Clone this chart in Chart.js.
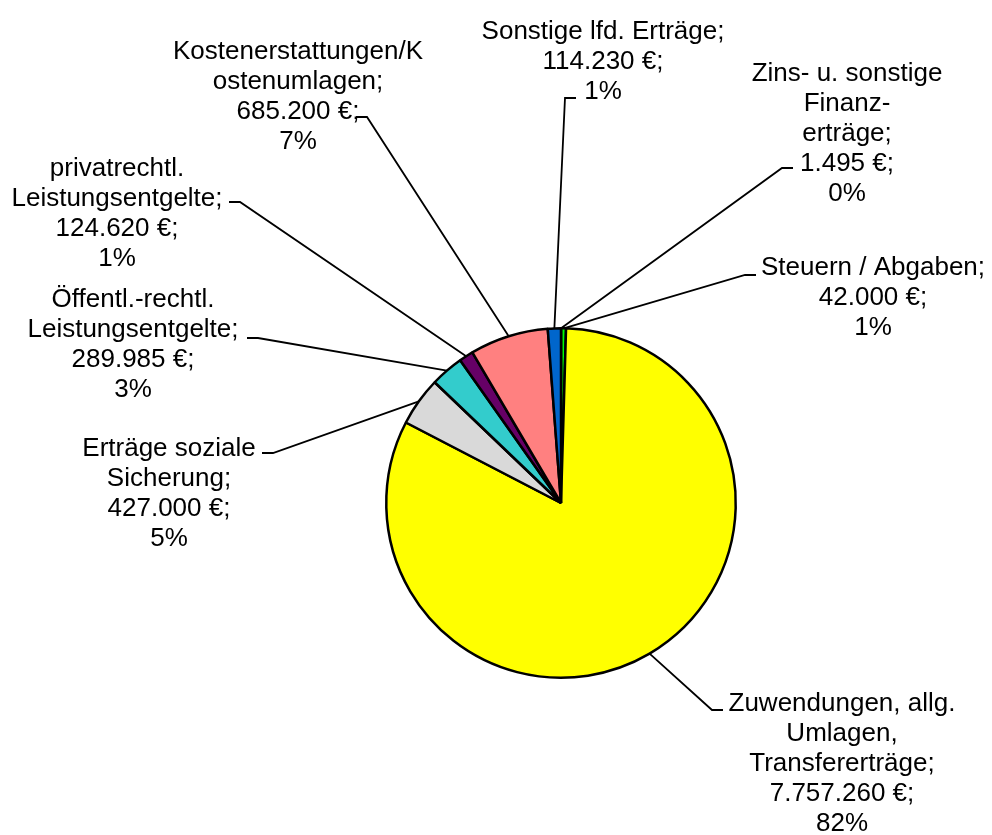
<!DOCTYPE html>
<html>
<head>
<meta charset="utf-8">
<script src="https://cdn.jsdelivr.net/npm/chart.js@4.4.0/dist/chart.umd.min.js"></script>
<style>
  html, body { margin: 0; padding: 0; background: #fff; }
  #wrap { width: 992px; height: 835px; }
</style>
</head>
<body>
<div id="wrap"><canvas id="pieChart" width="992" height="835"></canvas></div>
<script>
// data
var categories = [
    'Zins- u. sonstige Finanzerträge',
    'Steuern / Abgaben',
    'Zuwendungen, allg. Umlagen, Transfererträge',
    'Erträge soziale Sicherung',
    'Öffentl.-rechtl. Leistungsentgelte',
    'privatrechtl. Leistungsentgelte',
    'Kostenerstattungen/Kostenumlagen',
    'Sonstige lfd. Erträge'
];
var values = [1495, 42000, 7757260, 427000, 289985, 124620, 685200, 114230];
var colors = ['#1a4d1a', '#00ff00', '#ffff00', '#d9d9d9', '#33cccc', '#660066', '#ff8080', '#0066cc'];

// how the category names are wrapped in the labels
var nameLines = [
    ['Zins- u. sonstige', 'Finanz-', 'erträge;'],
    ['Steuern / Abgaben;'],
    ['Zuwendungen, allg.', 'Umlagen,', 'Transfererträge;'],
    ['Erträge soziale', 'Sicherung;'],
    ['Öffentl.-rechtl.', 'Leistungsentgelte;'],
    ['privatrechtl.', 'Leistungsentgelte;'],
    ['Kostenerstattungen/K', 'ostenumlagen;'],
    ['Sonstige lfd. Erträge;']
];

// label placement relative to the pie centre: text = centre of first line, elbow of leader, dir of short tail
var labelLayout = [
    { text: [286, -431], elbow: [221, -335], dir: 1 },
    { text: [312, -237], elbow: [184, -228], dir: 1 },
    { text: [281, 199],  elbow: [151, 207],  dir: 1 },
    { text: [-392, -56], elbow: [-288, -50], dir: -1 },
    { text: [-428, -205], elbow: [-303, -165], dir: -1 },
    { text: [-444, -336], elbow: [-321, -301], dir: -1 },
    { text: [-263, -453], elbow: [-194, -386], dir: -1 },
    { text: [42, -473],  elbow: [4, -405],    dir: 1 }
];

function fmtEuro(v) {
    return String(v).replace(/\B(?=(\d{3})+(?!\d))/g, '.');
}

// rounded percentages that add up to 100 (like Excel does)
function percents(vals) {
    var total = vals.reduce(function (a, b) { return a + b; }, 0);
    var raw = vals.map(function (v) { return v / total * 100; });
    var out = raw.map(Math.floor);
    var missing = 100 - out.reduce(function (a, b) { return a + b; }, 0);
    var order = raw.map(function (r, i) { return i; })
        .sort(function (a, b) { return (raw[b] - out[b]) - (raw[a] - out[a]); });
    for (var k = 0; k < missing; k++) out[order[k]] += 1;
    return out;
}
var pct = percents(values);

var outsideLabels = {
    id: 'outsideLabels',
    afterDatasetsDraw: function (chart) {
        var ctx = chart.ctx;
        var arcs = chart.getDatasetMeta(0).data;
        ctx.save();
        ctx.font = '26px "Liberation Sans", Arial, sans-serif';
        ctx.fillStyle = '#000';
        ctx.textAlign = 'center';
        ctx.textBaseline = 'alphabetic';
        ctx.strokeStyle = '#000';
        ctx.lineWidth = 1.8;
        arcs.forEach(function (arc, i) {
            var p = arc.getProps(['x', 'y', 'startAngle', 'endAngle', 'outerRadius'], true);
            var mid = (p.startAngle + p.endAngle) / 2;
            var sx = p.x + Math.cos(mid) * p.outerRadius;
            var sy = p.y + Math.sin(mid) * p.outerRadius;
            var L = labelLayout[i];
            var ex = p.x + L.elbow[0], ey = p.y + L.elbow[1];
            ctx.beginPath();
            ctx.moveTo(sx, sy);
            ctx.lineTo(ex, ey);
            ctx.lineTo(ex + L.dir * 11, ey);
            ctx.stroke();
            var lines = nameLines[i].concat([fmtEuro(values[i]) + ' €;', pct[i] + '%']);
            lines.forEach(function (t, k) {
                ctx.fillText(t, p.x + L.text[0], p.y + L.text[1] + k * 30 + 9);
            });
        });
        ctx.restore();
    }
};

var ctx = document.getElementById('pieChart').getContext('2d');
var pieChart = new Chart(ctx, {
    type: 'pie',
    data: {
        labels: categories,
        datasets: [{
            data: values,
            backgroundColor: colors,
            borderColor: '#000',
            borderWidth: 2.5
        }]
    },
    options: {
        responsive: false,
        animation: false,
        devicePixelRatio: 1,
        layout: { padding: { left: 385, right: 255, top: 327, bottom: 156 } },
        plugins: {
            legend: { display: false },
            tooltip: { enabled: false }
        }
    },
    plugins: [outsideLabels]
});
</script>
</body>
</html>
